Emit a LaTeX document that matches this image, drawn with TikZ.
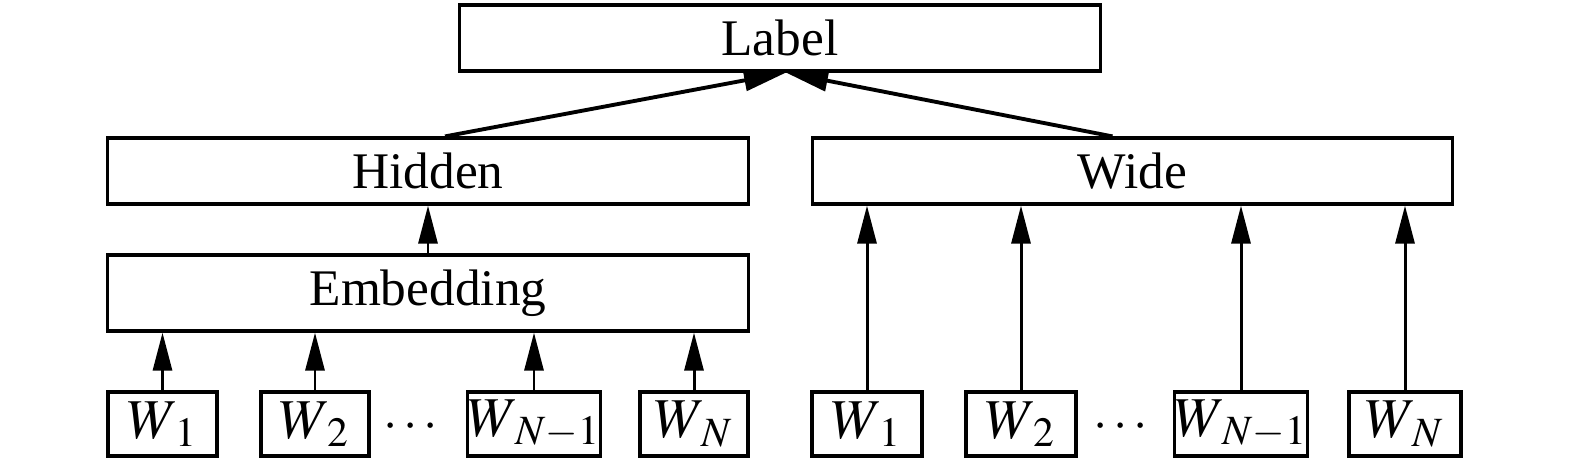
\documentclass[tikz,border=0pt]{standalone}
\usepackage{mathptmx}
\usepackage{fontspec}
\setmainfont{Liberation Serif}
\usetikzlibrary{arrows.meta}

\newcommand{\wsub}[1]{W_{\kern0.12em #1}}

\begin{document}
\begin{tikzpicture}[
    x=0.01cm, y=-0.01cm,
    every node/.style={font=\fontsize{14.6pt}{17pt}\selectfont},
    layer/.style={rectangle,draw=black,line width=0.9pt,minimum width=6.4cm,minimum height=0.66cm,inner sep=0pt},
    word/.style={rectangle,draw=black,line width=0.9pt,minimum height=0.64cm,inner sep=0pt,font=\fontsize{16pt}{18pt}\selectfont},
    arrow/.style={-{Triangle[length=0.38cm,width=0.19cm]}, line width=0.85pt},
    toparrow/.style={-{Triangle[length=0.42cm,width=0.21cm]}, line width=1.1pt}
]
\useasboundingbox (0,0) rectangle (1575,469);

\node[layer] (label) at (780,38) {Label};

\node[layer] (hidden) at (428,171) {Hidden};
\node[layer] (wide) at (1132.5,171) {Wide};

\node[layer,minimum height=0.76cm] (embed) at (428,293) {Embedding};

% deep part
\node[word,minimum width=1.09cm] (w1) at (162.5,424) {$\wsub{1}$};
\node[word,minimum width=1.08cm] (w2) at (315,424) {$\wsub{2}$};
\node (dotsL) at (411,427) {$\cdots$};
\node[word,minimum width=1.18cm] (wn1) at (534,424) {$\wsub{N-1}$};
\node[word,minimum width=1.08cm] (wn) at (694,424) {$\wsub{N}$};

% wide part
\node[word,minimum width=1.10cm] (v1) at (867,424) {$\wsub{1}$};
\node[word,minimum width=1.10cm] (v2) at (1021,424) {$\wsub{2}$};
\node (dotsR) at (1121,427) {$\cdots$};
\node[word,minimum width=1.22cm] (vn1) at (1241,424) {$\wsub{N-1}$};
\node[word,minimum width=1.12cm] (vn) at (1405,424) {$\wsub{N}$};

\foreach \w in {w1,w2,wn1,wn}
    \draw[arrow] (\w.north) -- (\w.north |- embed.south);
\foreach \w in {v1,v2,vn1,vn}
    \draw[arrow] (\w.north) -- (\w.north |- wide.south);

\draw[arrow] (embed) -- (hidden);

\draw[toparrow] ([xshift=0.17cm]hidden.north) -- ([xshift=0.06cm]label.south);
\draw[toparrow] ([xshift=-0.2cm]wide.north) -- ([xshift=0.06cm]label.south);

\end{tikzpicture}
\end{document}
